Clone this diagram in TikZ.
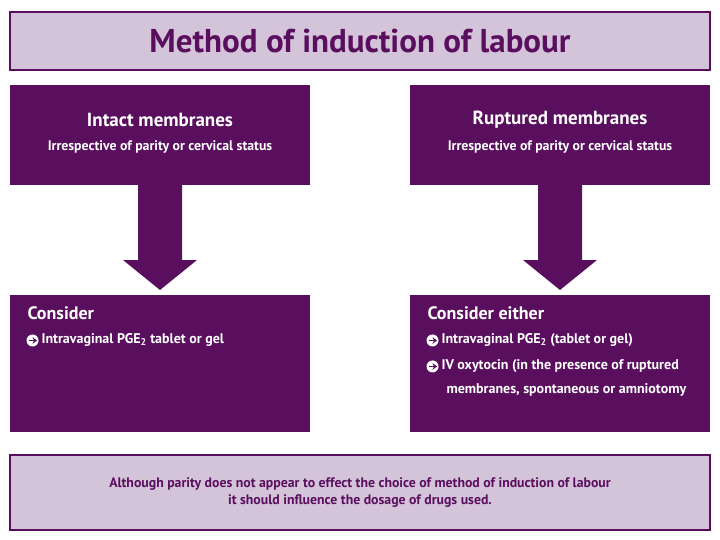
\documentclass[tikz,border=0pt]{standalone}
\usepackage{fontspec}
\setmainfont{PT Sans}
\usetikzlibrary{arrows.meta}
\definecolor{pur}{HTML}{5A0F5E}
\definecolor{lpur}{HTML}{D4C4DA}
\newsavebox\bulbox
\sbox\bulbox{\tikz[baseline=-0.6ex]{\fill[white] (0,0) circle (6pt); \draw[pur, line width=1.8pt,-{Stealth[length=4.5pt,width=6.5pt]}] (-4pt,0)--(4.5pt,0);}}
\newcommand\bul{\usebox\bulbox\hspace{3pt}}
\begin{document}
\begin{tikzpicture}[x=1pt,y=-1pt,
  lbox/.style={draw=pur,line width=1.5pt,fill=lpur},
  dbox/.style={fill=pur},
  arr/.style={fill=pur},
  txt/.style={text=white,font=\bfseries,align=center},
  body/.style={text=white,font=\bfseries\fontsize{14}{16}\selectfont,anchor=west}]
\useasboundingbox (0,0) rectangle (720,540);
\fill[white] (0,0) rectangle (720,540);
\draw[lbox] (10,12) rectangle (710,70);
\node[text=pur,font=\fontsize{33}{36}\selectfont\bfseries] (title) at (360,41) {Method of induction of labour};
% left
\fill[dbox] (10,85) rectangle (310,185);
\node[txt] (lh) at (160,120) {\fontsize{19}{22}\selectfont Intact membranes};
\node[txt] (ls) at (160,147) {\fontsize{13.8}{16}\selectfont Irrespective of parity or cervical status};
\fill[arr] (145,185) -- (182,185) -- (182,260) -- (197,260) -- (160,290) -- (123,260) -- (138,260) -- (138,185) -- cycle;
\fill[dbox] (10,295) rectangle (310,432);
\node[text=white,font=\bfseries\fontsize{18}{20}\selectfont,anchor=west] (lc) at (24,313) {Consider};
\node[body] (l1) at (23,340) {\bul Intravaginal PGE\textsubscript{2} tablet or gel};
% right
\fill[dbox] (410,85) rectangle (710,185);
\node[txt] (rh) at (560,120) {\fontsize{19}{22}\selectfont Ruptured membranes};
\node[txt] (rs) at (560,147) {\fontsize{13.8}{16}\selectfont Irrespective of parity or cervical status};
\fill[arr] (545,185) -- (582,185) -- (582,260) -- (597,260) -- (560,290) -- (523,260) -- (538,260) -- (538,185) -- cycle;
\fill[dbox] (410,295) rectangle (710,432);
\node[text=white,font=\bfseries\fontsize{18}{20}\selectfont,anchor=west] (rc) at (424,313) {Consider either};
\node[body] (r1) at (423,340) {\bul Intravaginal PGE\textsubscript{2} (tablet or gel)};
\node[body] (r2) at (423,366) {\bul IV oxytocin (in the presence of ruptured};
\node[body] (r3) at (443,390) {membranes, spontaneous or amniotomy};
% bottom
\draw[lbox] (10,455) rectangle (710,530);
\node[text=pur,font=\bfseries\fontsize{13.8}{17}\selectfont,align=center] (note) at (360,493) {Although parity does not appear to effect the choice of method of induction of labour\\it should influence the dosage of drugs used.};
\end{tikzpicture}
\end{document}
